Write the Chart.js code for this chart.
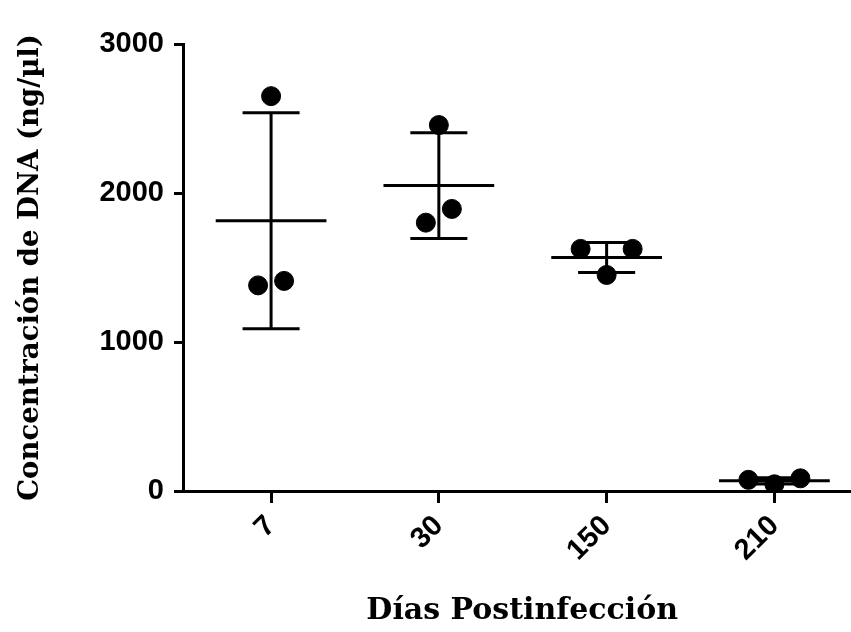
<!DOCTYPE html>
<html lang="es">
<head>
  <meta charset="UTF-8">
  <title>Concentración de DNA</title>
  <script src="https://cdn.jsdelivr.net/npm/chart.js"></script>
  <style>
    html, body { margin: 0; padding: 0; background: #fff; }
    #wrap { width: 851px; height: 632px; }
  </style>
</head>
<body>
  <div id="wrap"><canvas id="dna-plot"></canvas></div>

  <script>
    // días postinfección y valores individuales (ng/µl)
    const days = ['7', '30', '150', '210'];
    const dia7 = [2650, 1380, 1410];
    const dia30 = [2456, 1801, 1893];
    const dia150 = [1625, 1625, 1450];
    const dia210 = [85, 45, 75];
    const yTicks = [0, 1000, 2000, 3000];

    const groups = [dia7, dia30, dia150, dia210];

    // separa horizontalmente los puntos cercanos (como hace Prism)
    function spread(vals) {
      const order = vals.map((v, i) => i).sort((a, b) => vals[a] - vals[b]);
      const offs = new Array(vals.length).fill(0);
      let cluster = [order[0]];
      const flush = () => {
        const n = cluster.length;
        cluster.forEach((idx, k) => {
          let slot;
          if (n % 2) slot = k === 0 ? 0 : Math.ceil(k / 2) * (k % 2 ? -1 : 1);
          else slot = (Math.floor(k / 2) + 0.5) * (k % 2 ? 1 : -1);
          offs[idx] = slot * 0.155;
        });
      };
      for (let k = 1; k < order.length; k++) {
        if (vals[order[k]] - vals[cluster[0]] < 200) cluster.push(order[k]);
        else { flush(); cluster = [order[k]]; }
      }
      flush();
      return offs;
    }

    const points = [];
    groups.forEach((vals, g) => {
      const offs = spread(vals);
      vals.forEach((v, i) => points.push({ x: g + offs[i], y: v }));
    });

    function stats(vals) {
      const m = vals.reduce((a, b) => a + b, 0) / vals.length;
      const sd = Math.sqrt(vals.reduce((a, b) => a + (b - m) * (b - m), 0) / (vals.length - 1));
      return { m, sd };
    }

    // media y desviación estándar
    const meanSd = {
      id: 'meanSd',
      beforeDatasetsDraw(chart) {
        const { ctx, scales: { x, y } } = chart;
        ctx.save();
        ctx.strokeStyle = '#000';
        ctx.lineWidth = 3;
        groups.forEach((vals, g) => {
          const { m, sd } = stats(vals);
          const cx = x.getPixelForValue(g);
          const ym = y.getPixelForValue(m);
          const yt = y.getPixelForValue(m + sd);
          const yb = y.getPixelForValue(m - sd);
          const wMean = x.getPixelForValue(g + 0.33) - cx;
          const wCap = x.getPixelForValue(g + 0.17) - cx;
          ctx.beginPath();
          ctx.moveTo(cx - wMean, ym); ctx.lineTo(cx + wMean, ym);
          ctx.moveTo(cx, yt); ctx.lineTo(cx, yb);
          ctx.moveTo(cx - wCap, yt); ctx.lineTo(cx + wCap, yt);
          ctx.moveTo(cx - wCap, yb); ctx.lineTo(cx + wCap, yb);
          ctx.stroke();
        });
        ctx.restore();
      }
    };

    // el eje X llega hasta el borde derecho, como en el original
    const axisToEdge = {
      id: 'axisToEdge',
      afterDraw(chart) {
        const { ctx, chartArea, scales: { x } } = chart;
        const yAxis = Math.round(x.top - 1.5) + 1.5;
        ctx.save();
        ctx.strokeStyle = '#000';
        ctx.lineWidth = 3;
        ctx.beginPath();
        ctx.moveTo(chartArea.right - 2, yAxis);
        ctx.lineTo(chart.width, yAxis);
        ctx.stroke();
        ctx.restore();
      }
    };

    const tickFont = { family: 'Liberation Sans', weight: 'bold', size: 29 };

    const ctx = document.getElementById('dna-plot').getContext('2d');
    const chart = new Chart(ctx, {
      type: 'scatter',
      data: {
        datasets: [{
          data: points,
          backgroundColor: '#000',
          borderColor: '#000',
          pointRadius: 9.5,
          pointHoverRadius: 9.5,
        }],
      },
      options: {
        responsive: true,
        maintainAspectRatio: false,
        animation: false,
        events: [],
        layout: { padding: { top: 44, right: 0, left: 0, bottom: 0 } },
        plugins: { legend: { display: false }, tooltip: { enabled: false } },
        scales: {
          x: {
            type: 'linear',
            min: -0.525,
            max: 3.394,
            afterBuildTicks: s => { s.ticks = days.map((d, i) => ({ value: i })); },
            afterFit: s => { s.height = 141; },
            border: { color: '#000', width: 3 },
            grid: { drawOnChartArea: false, color: '#000', lineWidth: 3, tickLength: 12 },
            ticks: {
              color: '#000',
              autoSkip: false,
              minRotation: 45,
              maxRotation: 45,
              padding: 6,
              font: tickFont,
              callback: v => days[v] ?? '',
            },
            title: {
              display: true,
              text: '\u00a0\u00a0Días Postinfección',
              color: '#000',
              font: { family: 'DejaVu Serif', weight: 'bold', size: 30 },
              padding: { top: 0, bottom: 3 },
            },
          },
          y: {
            min: 0,
            max: 3000,
            afterBuildTicks: s => { s.ticks = yTicks.map(v => ({ value: v })); },
            afterFit: s => { s.width = 183; },
            border: { color: '#000', width: 3 },
            grid: { drawOnChartArea: false, color: '#000', lineWidth: 3, tickLength: 9 },
            ticks: {
              color: '#000',
              padding: 10,
              font: tickFont,
              callback: v => String(v),
            },
            title: {
              display: true,
              text: 'Concentración de DNA (ng/µl)',
              color: '#000',
              font: { family: 'DejaVu Serif', weight: 'bold', size: 27.5 },
              padding: { top: 14, bottom: 0 },
            },
          },
        },
      },
      plugins: [meanSd, axisToEdge],
    });
  </script>
</body>
</html>
